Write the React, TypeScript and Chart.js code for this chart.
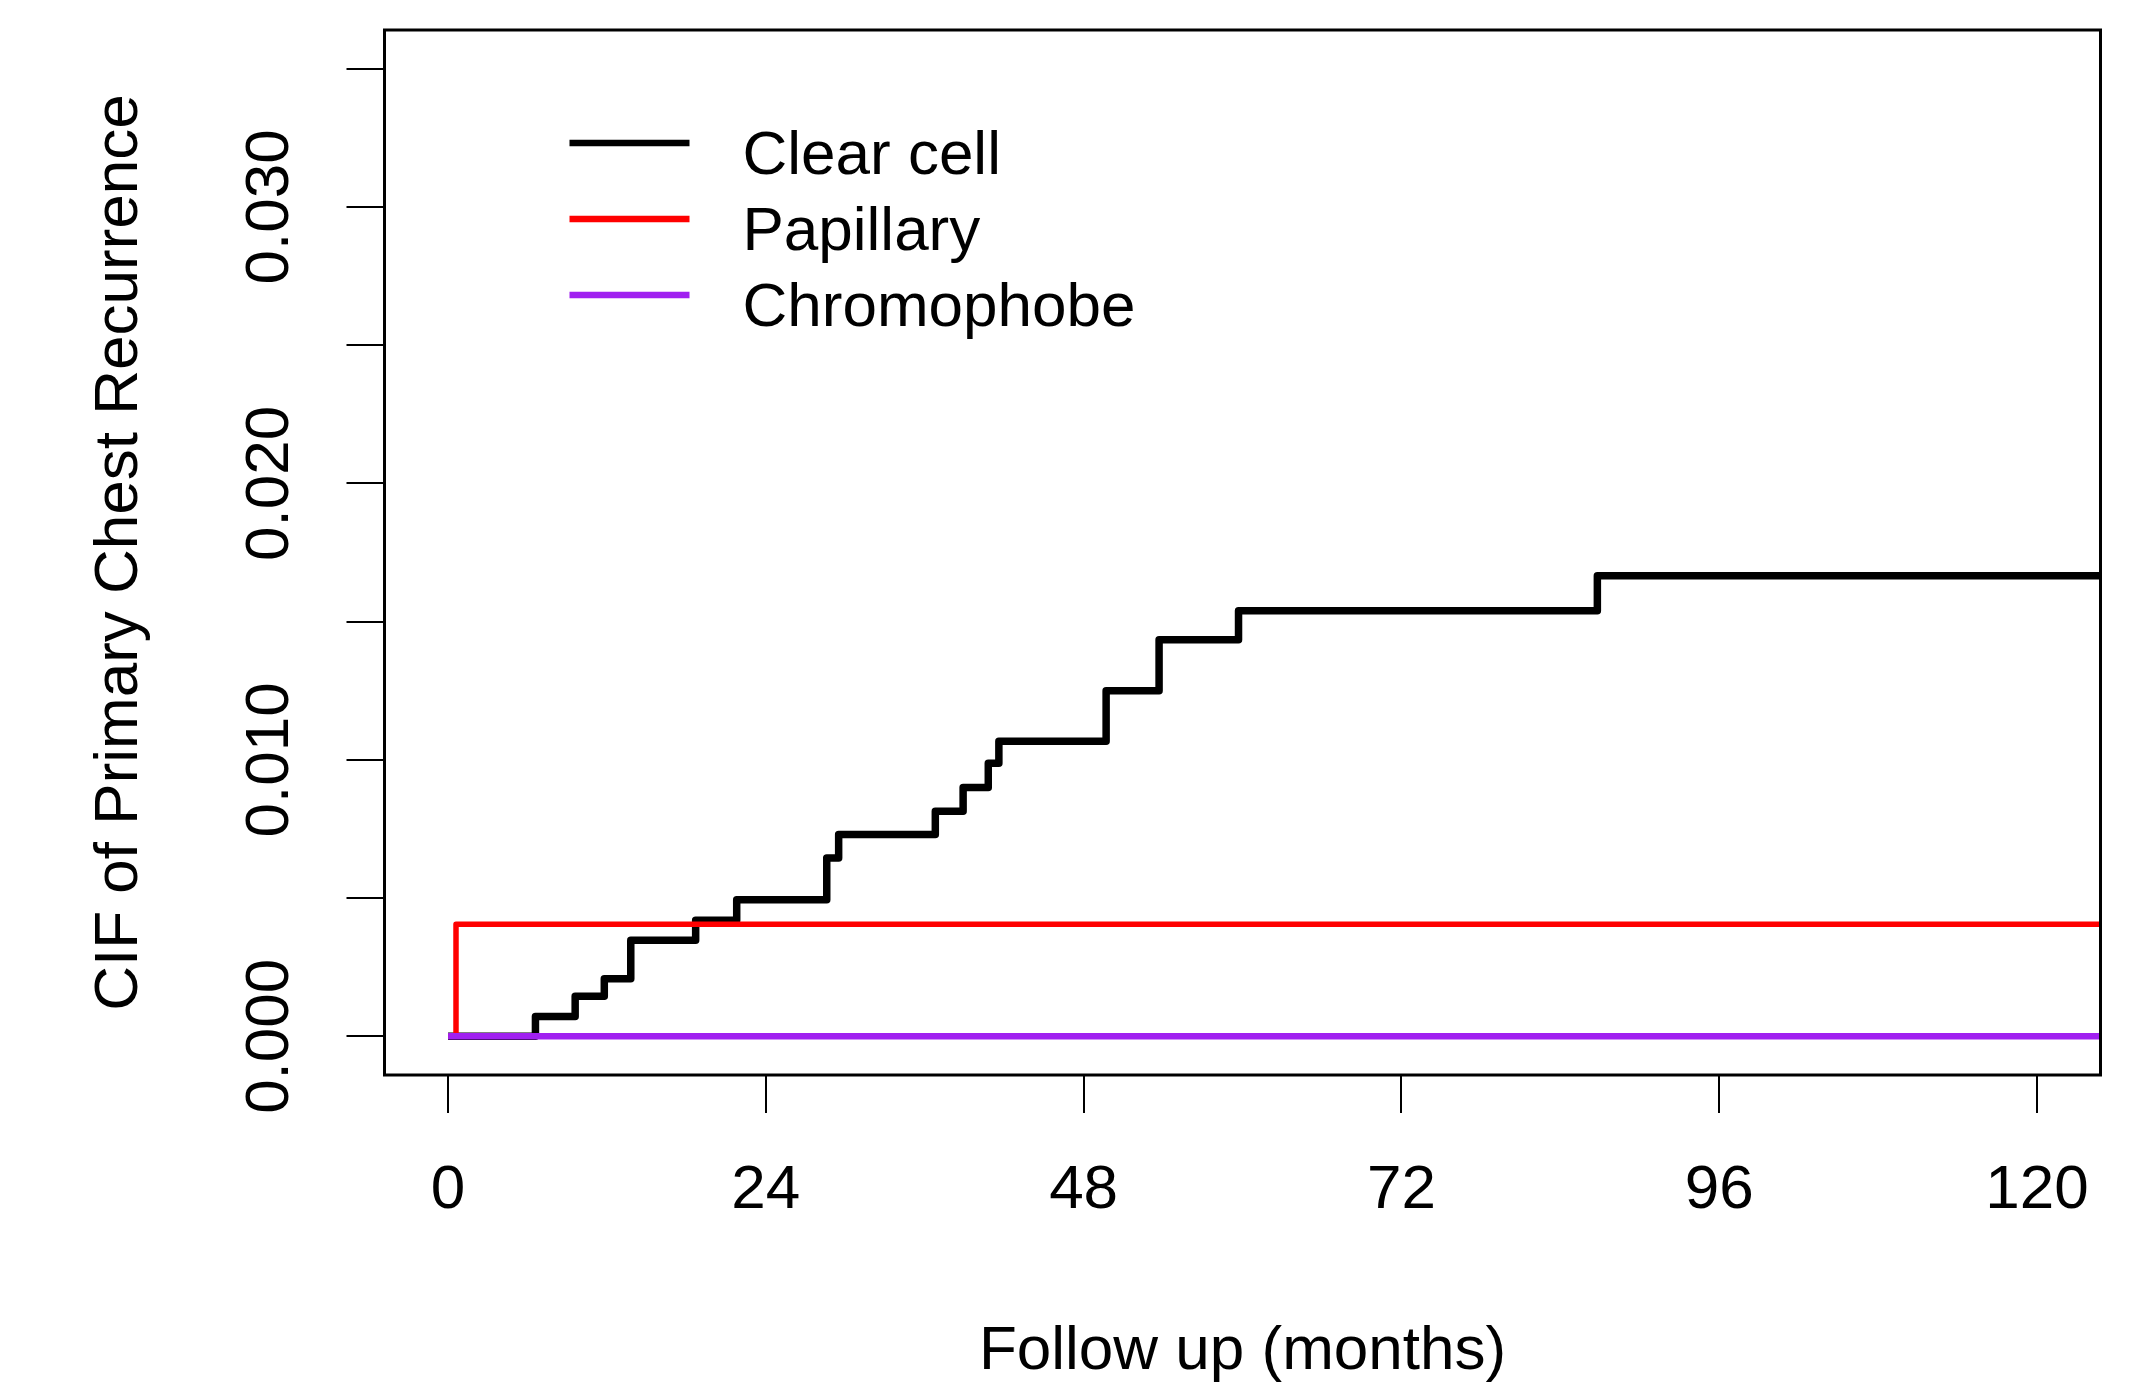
import React, { useEffect, useRef } from "react";
import { Chart, registerables } from "chart.js";

Chart.register(...registerables);

// ---------- data ----------
const xTickValues = [0, 24, 48, 72, 96, 120];
const yTickValues = [0, 0.005, 0.01, 0.015, 0.02, 0.025, 0.03, 0.035];
const yLabelValues = [0, 0.01, 0.02, 0.03];
const yLabelTexts = ["0.000", "0.010", "0.020", "0.030"];

const clearCellMonths = [0, 6.6, 9.6, 11.8, 13.8, 18.7, 21.8, 28.6, 29.5, 36.8, 38.9, 40.8, 41.6, 49.7, 53.7, 59.7, 86.8, 130];
const clearCellCIF = [0, 0.00072, 0.00145, 0.00208, 0.00347, 0.0042, 0.00494, 0.00645, 0.0073, 0.00814, 0.009, 0.00988, 0.01067, 0.0125, 0.01434, 0.01539, 0.01666, 0.01666];

const papillaryMonths = [0, 0.6, 130];
const papillaryCIF = [0, 0.00405, 0.00405];

const chromophobeMonths = [0, 130];
const chromophobeCIF = [0, 0];

const seriesLabels = ["Clear cell", "Papillary", "Chromophobe"];
const seriesColors = ["#000000", "#ff0000", "#a020f0"];
const seriesWidths = [7.5, 5.5, 6.5];

const xTitle = "Follow up (months)";
const yTitle = "CIF of Primary Chest Recurrence";

const FONT = "'Liberation Sans', Arial, Helvetica, sans-serif";
const FONT_SIZE = 62;

const toPoints = (xs: number[], ys: number[]) => xs.map((x, i) => ({ x, y: ys[i] }));

const rPlotPlugin = {
  id: "rPlotExtras",
  afterDraw(chart: any) {
    const { ctx, chartArea: a, scales } = chart;
    ctx.save();
    // box around plot region
    ctx.strokeStyle = "#000";
    ctx.lineWidth = 3;
    ctx.strokeRect(a.left, a.top, a.right - a.left, a.bottom - a.top);

    // rotated y tick labels (R style, las = 0)
    ctx.fillStyle = "#000";
    ctx.font = `${FONT_SIZE}px ${FONT}`;
    ctx.textAlign = "center";
    ctx.textBaseline = "middle";
    yLabelValues.forEach((v, i) => {
      const y = scales.y.getPixelForValue(v);
      ctx.save();
      ctx.translate(a.left - 114, y);
      ctx.rotate(-Math.PI / 2);
      ctx.fillText(yLabelTexts[i], 0, 0);
      ctx.restore();
    });

    // legend (bty = "n")
    const lx0 = a.left + 185;
    const lx1 = a.left + 305;
    const tx = a.left + 358;
    chart.data.datasets.forEach((ds: any, i: number) => {
      const ly = a.top + 113 + i * 76;
      ctx.strokeStyle = ds.borderColor;
      ctx.lineWidth = 6.5;
      ctx.lineCap = "butt";
      ctx.beginPath();
      ctx.moveTo(lx0, ly);
      ctx.lineTo(lx1, ly);
      ctx.stroke();
      ctx.fillStyle = "#000";
      ctx.textAlign = "left";
      ctx.textBaseline = "alphabetic";
      ctx.fillText(ds.label, tx, ly + 31);
    });
    ctx.restore();
  },
};

export default function App() {
  const canvasRef = useRef<HTMLCanvasElement | null>(null);

  useEffect(() => {
    if (!canvasRef.current) return;
    Chart.defaults.font.family = FONT;
    Chart.defaults.color = "#000";

    const chart = new Chart(canvasRef.current, {
      type: "line",
      data: {
        datasets: [
          {
            label: seriesLabels[0],
            data: toPoints(clearCellMonths, clearCellCIF),
            borderColor: seriesColors[0],
            borderWidth: seriesWidths[0],
            stepped: true,
            pointRadius: 0,
            fill: false,
            clip: 0,
            order: 2,
            borderJoinStyle: "round",
          },
          {
            label: seriesLabels[1],
            data: toPoints(papillaryMonths, papillaryCIF),
            borderColor: seriesColors[1],
            borderWidth: seriesWidths[1],
            stepped: true,
            pointRadius: 0,
            fill: false,
            clip: 0,
            order: 1,
            borderJoinStyle: "round",
          },
          {
            label: seriesLabels[2],
            data: toPoints(chromophobeMonths, chromophobeCIF),
            borderColor: seriesColors[2],
            borderWidth: seriesWidths[2],
            stepped: true,
            pointRadius: 0,
            fill: false,
            clip: 0,
            order: 0,
            borderJoinStyle: "round",
          },
        ],
      },
      options: {
        responsive: false,
        animation: false,
        devicePixelRatio: 1,
        events: [],
        layout: { padding: { top: 30, right: 48.5, bottom: 0, left: 0 } },
        plugins: {
          legend: { display: false },
          tooltip: { enabled: false },
        },
        scales: {
          x: {
            type: "linear",
            min: -4.8,
            max: 124.8,
            afterBuildTicks: (scale: any) => {
              scale.ticks = xTickValues.map((v) => ({ value: v }));
            },
            afterFit: (scale: any) => {
              scale.height = 308;
            },
            border: { display: false },
            grid: {
              display: true,
              drawOnChartArea: false,
              drawTicks: true,
              tickLength: 38,
              color: "#000",
              lineWidth: 2,
            },
            ticks: {
              autoSkip: false,
              maxRotation: 0,
              minRotation: 0,
              padding: 47,
              color: "#000",
              font: { size: FONT_SIZE, lineHeight: 1 },
              callback: (v: any) => String(v),
            },
            title: {
              display: true,
              text: xTitle,
              color: "#000",
              font: { size: FONT_SIZE, lineHeight: 1 },
              padding: { top: 0, bottom: 0 },
            },
          },
          y: {
            type: "linear",
            min: -0.0014,
            max: 0.0364,
            afterBuildTicks: (scale: any) => {
              scale.ticks = yTickValues.map((v) => ({ value: v }));
            },
            afterFit: (scale: any) => {
              scale.width = 384.5;
            },
            border: { display: false },
            grid: {
              display: true,
              drawOnChartArea: false,
              drawTicks: true,
              tickLength: 38,
              color: "#000",
              lineWidth: 2,
            },
            ticks: { display: false },
            title: {
              display: true,
              text: yTitle,
              color: "#000",
              font: { size: FONT_SIZE, lineHeight: 1 },
              padding: { top: 89, bottom: 0 },
            },
          },
        },
      },
      plugins: [rPlotPlugin],
    } as any);

    return () => chart.destroy();
  }, []);

  return (
    <div style={{ position: "fixed", left: 0, top: 0, width: 2149, height: 1383, background: "#fff" }}>
      <canvas ref={canvasRef} width={2149} height={1383} style={{ display: "block" }} />
    </div>
  );
}
